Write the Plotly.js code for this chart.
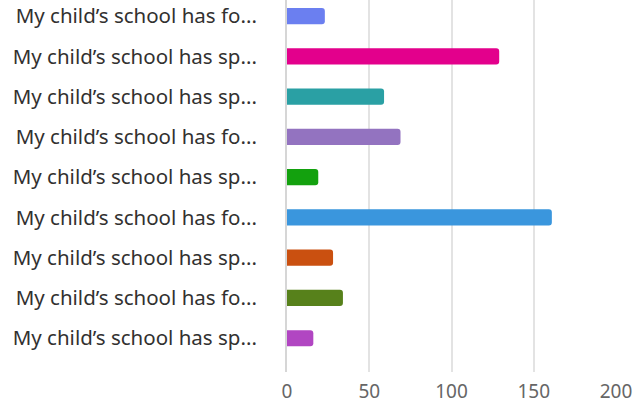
<!DOCTYPE html>
<html>
<head>
<meta charset="utf-8">
<script src="https://cdn.plot.ly/plotly-3.0.1.min.js"></script>
<style>html,body{margin:0;padding:0;background:#fff;}#chart{width:636px;height:406px;}</style>
</head>
<body>
<div id="chart"></div>
<script>
const categoryIds = ["s1","s2","s3","s4","s5","s6","s7","s8","s9"];
const labels = [
  "My child\u2019s school has fo...",
  "My child\u2019s school has sp...",
  "My child\u2019s school has sp...",
  "My child\u2019s school has fo...",
  "My child\u2019s school has sp...",
  "My child\u2019s school has fo...",
  "My child\u2019s school has sp...",
  "My child\u2019s school has fo...",
  "My child\u2019s school has sp..."
];
const counts = [23, 129, 59, 69, 19, 161, 28, 34, 16];
const colors = ["#6b7ff0","#e3008c","#2aa0a4","#9373c0","#13a10e","#3a96dd","#ca5010","#57811b","#b146c2"];
const xTicks = [0, 50, 100, 150, 200];

const trace = {
  type: "bar",
  orientation: "h",
  y: categoryIds,
  x: counts,
  width: 0.4,
  marker: {color: colors, cornerradius: 3, line: {width: 0}},
  hoverinfo: "x"
};

const layout = {
  width: 636, height: 406,
  margin: {l: 287, r: 20, t: 0, b: 34, pad: 0},
  paper_bgcolor: "#ffffff",
  plot_bgcolor: "#ffffff",
  showlegend: false,
  font: {family: "Noto Sans, Open Sans, sans-serif"},
  xaxis: {
    range: [0, 200],
    tickvals: xTicks,
    ticktext: xTicks.map(String),
    showgrid: true,
    gridcolor: "#e3e3e3",
    gridwidth: 2,
    zeroline: false,
    showline: false,
    ticks: "",
    ticklabelstandoff: 6,
    tickfont: {size: 19, color: "#666666"},
    fixedrange: true
  },
  yaxis: {
    type: "category",
    categoryorder: "array",
    categoryarray: categoryIds,
    range: [8.84, -0.4],
    tickvals: categoryIds,
    ticktext: labels,
    showgrid: false,
    zeroline: false,
    showline: true,
    linecolor: "#d6d6d6",
    linewidth: 2,
    ticks: "",
    ticklabelstandoff: 24,
    tickfont: {size: 20.5, color: "#323130"},
    fixedrange: true
  }
};

Plotly.newPlot("chart", [trace], layout, {displayModeBar: false, staticPlot: true});
</script>
</body>
</html>
